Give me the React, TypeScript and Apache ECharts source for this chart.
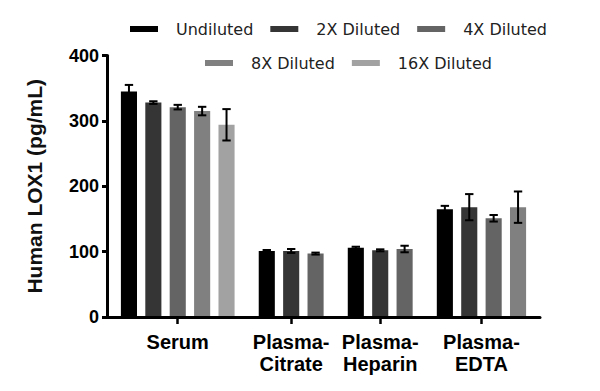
import React, { useEffect, useRef } from "react";
import * as echarts from "echarts";

const categories = ["Serum", "Plasma-\nCitrate", "Plasma-\nHeparin", "Plasma-\nEDTA"];
const seriesNames = ["Undiluted", "2X Diluted", "4X Diluted", "8X Diluted", "16X Diluted"];
const seriesColors = ["#000000", "#353535", "#646464", "#808080", "#a2a2a2"];

// values per series, one per category (null = not measured)
const undiluted = [345, 101, 106, 165];
const diluted2x = [328, 101, 102, 168];
const diluted4x = [321, 97, 104, 151];
const diluted8x = [315, null, null, 168];
const diluted16x = [294, null, null, null];

// error (± SD) per series, one per category
const undilutedErr = [10, 1.5, 1.5, 5];
const diluted2xErr = [2, 3, 1.5, 20];
const diluted4xErr = [3.5, 1.5, 5, 5];
const diluted8xErr = [6.5, null, null, 24];
const diluted16xErr = [24, null, null, null];

const yTicks = [0, 100, 200, 300, 400];

const allValues = [undiluted, diluted2x, diluted4x, diluted8x, diluted16x];
const allErrors = [undilutedErr, diluted2xErr, diluted4xErr, diluted8xErr, diluted16xErr];

export default function App() {
  const ref = useRef<HTMLDivElement>(null);
  useEffect(() => {
    document.body.style.margin = "0";
    if (!ref.current) return;
    const chart = echarts.init(ref.current, null, { renderer: "svg" });

    // layout of slots: bars in a group are 1 unit apart, groups separated by extra gap
    const GROUP_GAP = 1.65;
    const counts = categories.map((_, g) => allValues.filter((v) => v[g] != null).length);
    const starts: number[] = [];
    let s = 0;
    counts.forEach((c) => {
      starts.push(s);
      s += c - 1 + GROUP_GAP;
    });
    const centers = starts.map((st, g) => st + (counts[g] - 1) / 2);
    const lastPos = starts[starts.length - 1] + counts[counts.length - 1] - 1;

    const series = seriesNames.map((name, si) => {
      const data: number[][] = [];
      categories.forEach((_, g) => {
        const v = allValues[si][g];
        if (v == null) return;
        data.push([starts[g] + si, v, allErrors[si][g] ?? 0]);
      });
      const color = seriesColors[si];
      return {
        type: "custom",
        name,
        itemStyle: { color },
        encode: { x: 0, y: 1 },
        data,
        renderItem: (params: any, api: any) => {
          const x = api.value(0);
          const y = api.value(1);
          const e = api.value(2);
          const base = api.coord([x, 0]);
          const top = api.coord([x, y]);
          const hi = api.coord([x, y + e]);
          const lo = api.coord([x, y - e]);
          const bw = api.size([1, 0])[0] * 0.66;
          const cap = bw * 0.26;
          return {
            type: "group",
            children: [
              {
                type: "rect",
                shape: { x: top[0] - bw / 2, y: top[1], width: bw, height: base[1] - top[1] },
                style: { fill: color },
              },
              {
                type: "line",
                shape: { x1: hi[0], y1: hi[1], x2: lo[0], y2: lo[1] },
                style: { stroke: "#000", lineWidth: 2 },
              },
              {
                type: "line",
                shape: { x1: hi[0] - cap, y1: hi[1], x2: hi[0] + cap, y2: hi[1] },
                style: { stroke: "#000", lineWidth: 2 },
              },
              {
                type: "line",
                shape: { x1: lo[0] - cap, y1: lo[1], x2: lo[0] + cap, y2: lo[1] },
                style: { stroke: "#000", lineWidth: 2 },
              },
            ],
          };
        },
      };
    });

    const legendCommon = {
      icon: "rect",
      itemWidth: 28,
      itemHeight: 6,
      itemGap: 17,
      orient: "horizontal",
      padding: 0,
      textStyle: {
        fontFamily: "DejaVu Sans",
        fontSize: 16,
        color: "#222",
        padding: [0, 0, 0, 13],
      },
      selectedMode: false,
    };

    chart.setOption({
      animation: false,
      backgroundColor: "#ffffff",
      legend: [
        { ...legendCommon, data: seriesNames.slice(0, 3), left: 130, top: 21 },
        { ...legendCommon, data: seriesNames.slice(3), left: 205, top: 55 },
      ],
      grid: { left: 107, right: 60, top: 55.5, bottom: 74 },
      xAxis: {
        type: "value",
        min: -0.9,
        max: lastPos + 0.9,
        z: 10,
        splitLine: { show: false },
        axisLine: { show: true, onZero: false, lineStyle: { color: "#000", width: 3 } },
        axisTick: {
          show: true,
          customValues: centers,
          length: 7,
          inside: false,
          lineStyle: { color: "#000", width: 2.5 },
        },
        axisLabel: {
          show: true,
          customValues: centers,
          margin: 14,
          fontFamily: "Liberation Sans",
          fontWeight: "bold",
          fontSize: 20,
          lineHeight: 22,
          color: "#000",
          formatter: (val: number) => {
            const i = centers.findIndex((c) => Math.abs(c - val) < 1e-6);
            return i >= 0 ? categories[i] : "";
          },
        },
      },
      yAxis: {
        type: "value",
        min: yTicks[0],
        max: yTicks[yTicks.length - 1],
        interval: 100,
        z: 10,
        name: "Human LOX1 (pg/mL)",
        nameLocation: "middle",
        nameGap: 62,
        nameTextStyle: {
          fontFamily: "Liberation Sans",
          fontWeight: "bold",
          fontSize: 21,
          color: "#111",
        },
        splitLine: { show: false },
        axisLine: { show: true, onZero: false, lineStyle: { color: "#000", width: 3 } },
        axisTick: { show: true, length: 5, lineStyle: { color: "#000", width: 3 } },
        axisLabel: {
          margin: 8,
          fontFamily: "Liberation Sans",
          fontWeight: "bold",
          fontSize: 18,
          color: "#000",
        },
      },
      series,
    });
    return () => chart.dispose();
  }, []);
  return <div ref={ref} style={{ width: 600, height: 391 }} />;
}
